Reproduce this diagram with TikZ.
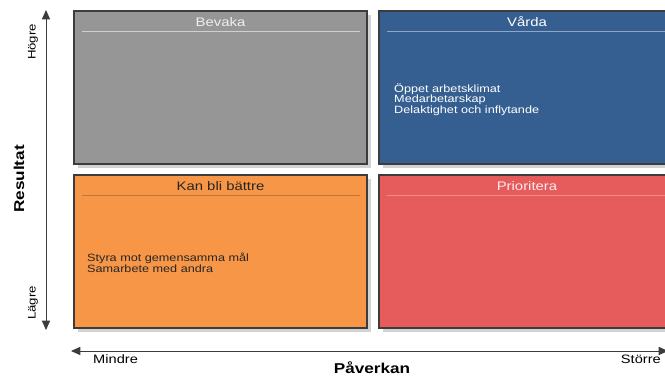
\documentclass[tikz,border=0pt]{standalone}
\usepackage{fontspec}
\setmainfont{Liberation Sans}[FakeStretch=1.2]
\usetikzlibrary{arrows.meta}
\definecolor{bevakagray}{HTML}{969696}
\definecolor{vardablue}{HTML}{365F91}
\definecolor{battreorange}{HTML}{F79646}
\definecolor{priored}{HTML}{E65B5B}
\definecolor{shadowgray}{HTML}{D2D2D2}
\definecolor{framegray}{HTML}{3C3C3C}
\definecolor{darktext}{HTML}{262626}
\tikzset{
  quad/.style={draw=framegray,line width=0.9pt},
  qtitle/.style={font=\fontsize{10.6}{12}\selectfont},
  qbody/.style={font=\fontsize{9}{9}\selectfont,align=left,anchor=north west},
  axislabel/.style={font=\fontsize{9.4}{11}\selectfont},
  axisname/.style={font=\fontsize{12.2}{14}\selectfont\bfseries},
  axisline/.style={draw=framegray,line width=0.8pt,{Triangle[length=8pt,width=7pt]}-{Triangle[length=8pt,width=7pt]}}
}
\begin{document}
\begin{tikzpicture}[x=0.03cm,y=-0.03cm,every node/.style={inner sep=0pt}]
\useasboundingbox (0,0) rectangle (665,376);
% shadows
\fill[shadowgray] (78,15) rectangle (371,168);
\fill[shadowgray] (383,15) rectangle (679,168);
\fill[shadowgray] (78,179) rectangle (371,332);
\fill[shadowgray] (383,179) rectangle (679,332);
% quadrants
\draw[quad,fill=bevakagray] (74,11) rectangle (367,164);
\draw[quad,fill=vardablue] (379,11) rectangle (675,164);
\draw[quad,fill=battreorange] (74,175) rectangle (367,328);
\draw[quad,fill=priored] (379,175) rectangle (675,328);
% header rules
\draw[white!55!bevakagray,line width=0.6pt] (82,31) -- (360,31);
\draw[white!45!vardablue,line width=0.6pt] (387,31) -- (675,31);
\draw[black!22!battreorange,line width=0.6pt] (82,195) -- (360,195);
\draw[white!30!priored,line width=0.6pt] (387,195) -- (675,195);
% titles
\node[qtitle,text=white!85!bevakagray] (bevaka) at (220.5,22) {Bevaka};
\node[qtitle,text=white] (varda) at (527,22) {Vårda};
\node[qtitle,text=darktext] (battre) at (220.5,186) {Kan bli bättre};
\node[qtitle,text=white!88!priored] (prio) at (527,186) {Prioritera};
% contents
\node[qbody,text=white] (vardatext) at (394,83) {Öppet arbetsklimat\\Medarbetarskap\\Delaktighet och inflytande};
\node[qbody,text=darktext] (battretext) at (87,253) {Styra mot gemensamma mål\\Samarbete med andra};
% axes
\coordinate (ytop) at (46,10);
\coordinate (ybot) at (46,330);
\coordinate (xleft) at (71,351);
\coordinate (xright) at (668,351);
\draw[axisline] (ybot) -- (ytop);
\draw[axisline] (xleft) -- (xright);
\node[axislabel,rotate=90] (hogre) at (33,42) {Högre};
\node[axislabel,rotate=90] (lagre) at (33,303) {Lägre};
\node[axisname,rotate=90] (resultat) at (19,179) {Resultat};
\node[axislabel,font=\fontsize{10.4}{12}\selectfont,anchor=west] (mindre) at (93,359) {Mindre};
\node[axislabel,font=\fontsize{10.4}{12}\selectfont,anchor=east] (storre) at (661,359) {Större};
\node[axisname] (paverkan) at (372,368) {Påverkan};
\end{tikzpicture}
\end{document}
